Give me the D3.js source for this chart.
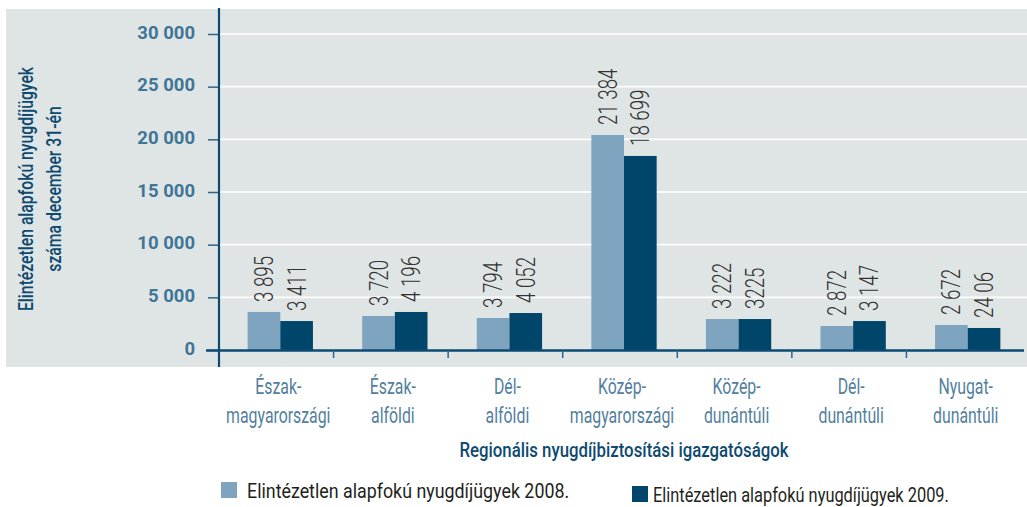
<!DOCTYPE html>
<html>
<head>
<meta charset="utf-8">
<script src="https://cdn.jsdelivr.net/npm/d3@7/dist/d3.min.js"></script>
<style>
  body { margin: 0; background: #fff; }
  text { font-family: Roboto, "Noto Sans", sans-serif; }
</style>
</head>
<body>
<svg id="chart" width="1027" height="507"></svg>
<script>
// regions (two-line labels)
const categories = [
  ["Észak-", "magyarországi"],
  ["Észak-", "alföldi"],
  ["Dél-", "alföldi"],
  ["Közép-", "magyarországi"],
  ["Közép-", "dunántúli"],
  ["Dél-", "dunántúli"],
  ["Nyugat-", "dunántúli"]
];
// bar heights as drawn in the picture
const values2008 = [3610, 3230, 3040, 20410, 2940, 2280, 2370];
const values2009 = [2750, 3610, 3510, 18420, 2940, 2750, 2090];
// printed value labels (kept as printed)
const labels2008 = ["3 895", "3 720", "3 794", "21 384", "3 222", "2 872", "2 672"];
const labels2009 = ["3 411", "4 196", "4 052", "18 699", "3225", "3 147", "24 06"];
const yTicks = [0, 5000, 10000, 15000, 20000, 25000, 30000];
const seriesNames = ["Elintézetlen alapfokú nyugdíjügyek 2008.", "Elintézetlen alapfokú nyugdíjügyek 2009."];
const yTitle = ["Elintézetlen alapfokú nyugdíjügyek", "száma december 31-én"];
const xTitle = "Regionális nyugdíjbiztosítási igazgatóságok";

const colors = ["#7fa4bf", "#00466b"];

const svg = d3.select("#chart");
const locale = d3.formatLocale({decimal: ",", thousands: " ", grouping: [3], currency: ["", ""]});
const fmt = locale.format(",");

// background panel
svg.append("rect")
  .attr("x", 6).attr("y", 9)
  .attr("width", 1021).attr("height", 358)
  .attr("fill", "#dfe5e5");

const y = d3.scaleLinear().domain([0, 30000]).range([350, 34]);
const xSep = d3.scaleBand().domain(d3.range(categories.length)).range([219, 1021]);
const x0 = d3.scaleBand().domain(d3.range(categories.length)).range([223, 1025])
  .paddingInner(0.43).paddingOuter(0.215);
const x1 = d3.scaleBand().domain([0, 1]).range([0, x0.bandwidth()]);

// gridlines
svg.append("g").selectAll("line")
  .data(yTicks.filter(d => d > 0))
  .join("line")
  .attr("x1", 219).attr("x2", 1027)
  .attr("y1", d => y(d)).attr("y2", d => y(d))
  .attr("stroke", "#ffffff").attr("stroke-width", 1.6);

// y axis
const yAxis = svg.append("g")
  .attr("transform", "translate(219,0)")
  .call(d3.axisLeft(y).tickValues(yTicks).tickSize(11).tickPadding(13)
    .tickFormat(d => fmt(d)));
yAxis.select(".domain").remove();
yAxis.selectAll(".tick line").attr("stroke", "#2f6388").attr("stroke-width", 1.5);
yAxis.selectAll(".tick text")
  .attr("fill", "#3f7596")
  .attr("font-family", "'DejaVu Sans', sans-serif")
  .attr("font-weight", "bold")
  .attr("font-size", 18.5)
  .attr("dy", "0.22em");

svg.append("line")
  .attr("x1", 219).attr("x2", 219).attr("y1", 8).attr("y2", 367)
  .attr("stroke", "#0b4a73").attr("stroke-width", 2.2);

// bars
const groups = svg.append("g").selectAll("g")
  .data(categories)
  .join("g")
  .attr("transform", (d, i) => `translate(${x0(i)},0)`);

const seriesVals = [values2008, values2009];
const seriesLabels = [labels2008, labels2009];

groups.selectAll("rect")
  .data((d, i) => [0, 1].map(s => ({s, v: seriesVals[s][i]})))
  .join("rect")
  .attr("x", d => x1(d.s))
  .attr("width", x1.bandwidth())
  .attr("y", d => y(d.v))
  .attr("height", d => y(0) - y(d.v))
  .attr("fill", d => colors[d.s]);

// value labels, rotated and condensed
groups.selectAll("text")
  .data((d, i) => [0, 1].map(s => ({s, v: seriesVals[s][i], t: seriesLabels[s][i]})))
  .join("text")
  .attr("transform", d => `translate(${x1(d.s) + x1.bandwidth() / 2 + 9},${y(d.v) - 10}) rotate(-90) scale(0.72,1)`)
  .attr("font-size", 26)
  .attr("font-weight", 300)
  .attr("fill", "#333333")
  .text(d => d.t);

// x axis line and separators
svg.append("line")
  .attr("x1", 206).attr("x2", 1024).attr("y1", 350.5).attr("y2", 350.5)
  .attr("stroke", "#0b4a73").attr("stroke-width", 2.4);
svg.append("g").selectAll("line")
  .data(d3.range(1, categories.length))
  .join("line")
  .attr("x1", d => xSep(d)).attr("x2", d => xSep(d))
  .attr("y1", 350).attr("y2", 358)
  .attr("stroke", "#2f6388").attr("stroke-width", 1.5);

// category labels
const catG = svg.append("g").selectAll("g")
  .data(categories)
  .join("g")
  .attr("transform", (d, i) => `translate(${x0(i) + x0.bandwidth() / 2 - 2},0)`);
catG.selectAll("text")
  .data(d => d)
  .join("text")
  .attr("transform", (d, j) => `translate(0,${394 + j * 29}) scale(0.72,1)`)
  .attr("text-anchor", "middle")
  .attr("font-size", 22)
  .attr("fill", "#52809e")
  .text(d => d);

// x title
svg.append("text")
  .attr("transform", "translate(624,457) scale(0.8,1)")
  .attr("text-anchor", "middle")
  .attr("font-size", 21)
  .attr("font-weight", 500)
  .attr("fill", "#0e4a70")
  .text(xTitle);

// y title
svg.append("g").selectAll("text")
  .data(yTitle)
  .join("text")
  .attr("transform", (d, i) => `translate(${33 + i * 28},189) rotate(-90) scale(0.75,1)`)
  .attr("text-anchor", "middle")
  .attr("font-size", 21)
  .attr("font-weight", 500)
  .attr("fill", "#0e4a70")
  .text(d => d);

// legend
const legendX = [221, 632];
const legendY = [498, 502];
const legendTextX = [26, 21];
const legendTextScale = [0.85, 0.78];
const legend = svg.append("g").selectAll("g")
  .data(seriesNames)
  .join("g")
  .attr("transform", (d, i) => `translate(${legendX[i]},${legendY[i]})`);
legend.append("rect")
  .attr("x", 0).attr("y", -16)
  .attr("width", 16).attr("height", 16)
  .attr("fill", (d, i) => colors[i]);
legend.append("text")
  .attr("transform", (d, i) => `translate(${legendTextX[i]},0) scale(${legendTextScale[i]},1)`)
  .attr("font-size", 21)
  .attr("fill", "#231f20")
  .text(d => d);
</script>
</body>
</html>
